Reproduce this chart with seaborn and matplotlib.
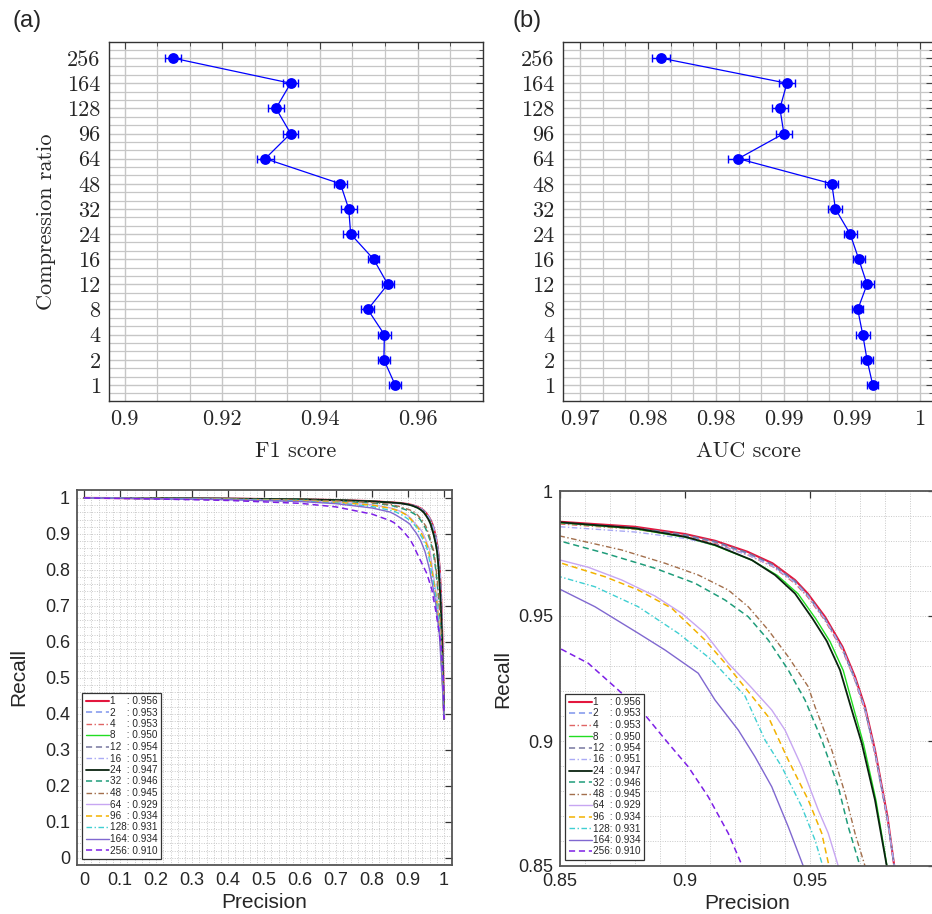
import numpy as np
import pandas as pd
import matplotlib
matplotlib.use("Agg")
import matplotlib.pyplot as plt
import seaborn as sns
from matplotlib.ticker import MultipleLocator, FixedLocator

sns.set_theme(style="white")
plt.rcParams["font.family"] = ["Liberation Sans", "DejaVu Sans"]

# --- dati: punteggi per rapporto di compressione ---
ratios = ["1", "2", "4", "8", "12", "16", "24", "32", "48", "64", "96", "128", "164", "256"]
f1_mean = [0.9554, 0.9531, 0.9532, 0.9498, 0.9539, 0.9510, 0.9463, 0.9459, 0.9442,
           0.9288, 0.9340, 0.9310, 0.9340, 0.9099]
f1_err = [0.0013, 0.0013, 0.0013, 0.0013, 0.0012, 0.0011, 0.0015, 0.0016, 0.0014,
          0.0017, 0.0016, 0.0016, 0.0015, 0.0016]
auc_mean = [0.99583, 0.99533, 0.99495, 0.99451, 0.99533, 0.99460, 0.99384, 0.99254, 0.99222,
            0.98397, 0.98799, 0.98764, 0.98826, 0.97713]
auc_err = [0.00050, 0.00050, 0.00060, 0.00047, 0.00057, 0.00053, 0.00056, 0.00062, 0.00059,
           0.00090, 0.00069, 0.00069, 0.00069, 0.00078]
legend_f1 = [0.956, 0.953, 0.953, 0.950, 0.954, 0.951, 0.947, 0.946, 0.945,
             0.929, 0.934, 0.931, 0.934, 0.910]

# --- curve precision / recall ---
p_top = [0.0, 0.2, 0.4, 0.6, 0.7, 0.8, 0.85, 0.88, 0.90, 0.912, 0.925, 0.935, 0.944, 0.949,
         0.956, 0.963, 0.968, 0.972, 0.976, 0.981, 0.9837, 0.988, 0.992, 0.995, 0.998, 1.0]
r_1 = [1.0, 0.999, 0.998, 0.996, 0.994, 0.991, 0.9877, 0.9857, 0.9828, 0.9801, 0.9757, 0.9711,
       0.9644, 0.9591, 0.9497, 0.9377, 0.9257, 0.9137, 0.8964, 0.8697, 0.85, 0.80, 0.72, 0.62, 0.50, 0.386]
r_2 = [1.0, 0.999, 0.998, 0.996, 0.994, 0.9905, 0.9872, 0.9850, 0.9822, 0.9795, 0.9750, 0.9703,
       0.9636, 0.9582, 0.9487, 0.9366, 0.9245, 0.9124, 0.8950, 0.8683, 0.85, 0.80, 0.72, 0.62, 0.50, 0.386]
r_4 = [1.0, 0.999, 0.998, 0.996, 0.994, 0.9903, 0.9868, 0.9847, 0.9818, 0.9790, 0.9745, 0.9698,
       0.9630, 0.9577, 0.9482, 0.9362, 0.9242, 0.9120, 0.8946, 0.8680, 0.85, 0.80, 0.72, 0.62, 0.50, 0.386]
r_12 = [1.0, 0.999, 0.998, 0.996, 0.994, 0.9906, 0.9874, 0.9853, 0.9825, 0.9798, 0.9753, 0.9706,
        0.9640, 0.9586, 0.9491, 0.9370, 0.9250, 0.9130, 0.8957, 0.8690, 0.85, 0.80, 0.72, 0.62, 0.50, 0.386]
r_16 = [1.0, 0.999, 0.998, 0.995, 0.993, 0.989, 0.9857, 0.9836, 0.9810, 0.9786, 0.9745, 0.9700,
        0.9634, 0.9582, 0.9488, 0.9368, 0.9248, 0.9128, 0.8955, 0.8690, 0.85, 0.80, 0.72, 0.62, 0.50, 0.386]

p_24 = [0.0, 0.2, 0.4, 0.6, 0.7, 0.8, 0.85, 0.88, 0.90, 0.912, 0.9267, 0.936, 0.944, 0.951,
        0.9567, 0.962, 0.9667, 0.9707, 0.976, 0.9807, 0.985, 0.990, 0.994, 0.997, 1.0]
r_24 = [1.0, 0.999, 0.998, 0.996, 0.994, 0.9905, 0.9875, 0.9851, 0.9817, 0.9784, 0.9724, 0.9664,
        0.9590, 0.9490, 0.9400, 0.9284, 0.9124, 0.8991, 0.8764, 0.85, 0.80, 0.72, 0.62, 0.50, 0.386]
p_8 = [0.0, 0.2, 0.4, 0.6, 0.7, 0.8, 0.85, 0.88, 0.90, 0.912, 0.927, 0.937, 0.9452, 0.9523,
       0.958, 0.9633, 0.9677, 0.9714, 0.9764, 0.9808, 0.985, 0.990, 0.994, 0.997, 1.0]
r_8 = [1.0, 0.999, 0.998, 0.996, 0.994, 0.9903, 0.9873, 0.9849, 0.9815, 0.9782, 0.9722, 0.9662,
       0.9589, 0.9489, 0.9398, 0.9282, 0.9122, 0.8989, 0.8762, 0.85, 0.80, 0.72, 0.62, 0.50, 0.386]

p_48 = [0.0, 0.2, 0.4, 0.6, 0.7, 0.8, 0.85, 0.8747, 0.892, 0.9053, 0.9173, 0.9253, 0.9333, 0.9413,
        0.9493, 0.952, 0.9587, 0.964, 0.968, 0.972, 0.978, 0.986, 0.992, 0.996, 1.0]
r_48 = [1.0, 0.999, 0.997, 0.994, 0.992, 0.987, 0.982, 0.9764, 0.9711, 0.9664, 0.9604, 0.9537,
        0.9444, 0.9337, 0.9217, 0.9137, 0.8964, 0.8791, 0.8631, 0.85, 0.80, 0.72, 0.62, 0.50, 0.386]
p_32 = [0.0, 0.2, 0.4, 0.6, 0.7, 0.8, 0.85, 0.868, 0.888, 0.904, 0.916, 0.9253, 0.9333, 0.9413,
        0.948, 0.9547, 0.9613, 0.9653, 0.970, 0.977, 0.985, 0.991, 0.996, 1.0]
r_32 = [1.0, 0.999, 0.997, 0.994, 0.991, 0.986, 0.980, 0.9751, 0.9691, 0.9631, 0.9564, 0.9497,
        0.9404, 0.9284, 0.9164, 0.9004, 0.8817, 0.8657, 0.85, 0.80, 0.72, 0.62, 0.50, 0.386]

p_64 = [0.0, 0.2, 0.4, 0.6, 0.7, 0.8, 0.85, 0.8613, 0.8747, 0.888, 0.8987, 0.908, 0.9173, 0.926,
        0.9347, 0.940, 0.9467, 0.9533, 0.9573, 0.9613, 0.968, 0.980, 0.989, 0.995, 1.0]
r_64 = [1.0, 0.998, 0.996, 0.992, 0.988, 0.981, 0.9724, 0.9695, 0.9644, 0.9580, 0.9511, 0.9431,
        0.9311, 0.9220, 0.9124, 0.9044, 0.8897, 0.8724, 0.8631, 0.85, 0.80, 0.72, 0.62, 0.50, 0.386]
p_96 = [0.0, 0.2, 0.4, 0.6, 0.7, 0.8, 0.85, 0.868, 0.8813, 0.8947, 0.908, 0.9173, 0.928, 0.9333,
        0.9413, 0.9493, 0.9547, 0.9576, 0.966, 0.979, 0.988, 0.995, 1.0]
r_96 = [1.0, 0.998, 0.996, 0.992, 0.988, 0.980, 0.9713, 0.9657, 0.9604, 0.9531, 0.9404, 0.9297,
        0.9164, 0.9097, 0.8924, 0.8764, 0.8631, 0.85, 0.80, 0.72, 0.62, 0.50, 0.386]
p_128 = [0.0, 0.2, 0.4, 0.6, 0.7, 0.8, 0.85, 0.864, 0.8813, 0.8973, 0.9107, 0.9240, 0.932, 0.9387,
         0.9467, 0.952, 0.9551, 0.964, 0.978, 0.988, 0.995, 1.0]
r_128 = [1.0, 0.998, 0.996, 0.991, 0.986, 0.976, 0.9657, 0.9617, 0.9537, 0.9431, 0.9324, 0.9180,
         0.9004, 0.8897, 0.8737, 0.8604, 0.85, 0.80, 0.72, 0.62, 0.50, 0.386]
p_164 = [0.0, 0.2, 0.4, 0.6, 0.7, 0.8, 0.85, 0.864, 0.8813, 0.892, 0.9053, 0.912, 0.9213, 0.928,
         0.9347, 0.9413, 0.9473, 0.960, 0.975, 0.987, 0.994, 1.0]
r_164 = [1.0, 0.998, 0.995, 0.990, 0.984, 0.972, 0.9607, 0.9537, 0.9431, 0.9364, 0.9271, 0.9164,
         0.9044, 0.8937, 0.8817, 0.8657, 0.85, 0.80, 0.72, 0.62, 0.50, 0.386]
p_256 = [0.0, 0.2, 0.4, 0.6, 0.7, 0.8, 0.85, 0.8613, 0.8733, 0.884, 0.8933, 0.9013, 0.9093, 0.9173,
         0.9229, 0.935, 0.952, 0.966, 0.978, 0.992, 0.998, 1.0]
r_256 = [1.0, 0.997, 0.993, 0.985, 0.975, 0.955, 0.937, 0.9311, 0.9204, 0.9104, 0.8991, 0.8897,
         0.8777, 0.8631, 0.85, 0.825, 0.79, 0.745, 0.68, 0.587, 0.494, 0.386]

SOLID, DASH, DASHDOT = "-", (0, (4, 2.5)), (0, (4, 1.8, 1, 1.8))
curves = [
    (p_top, r_1, "#e3173e", SOLID, 1.5),
    (p_top, r_2, "#7f95ec", DASH, 1.1),
    (p_top, r_4, "#e06464", DASHDOT, 1.0),
    (p_8, r_8, "#22dd22", SOLID, 1.0),
    (p_top, r_12, "#77779f", DASH, 1.1),
    (p_top, r_16, "#aaaaf5", DASHDOT, 1.0),
    (p_24, r_24, "#0a230f", SOLID, 1.3),
    (p_32, r_32, "#1f9c7a", DASH, 1.1),
    (p_48, r_48, "#a36f4c", DASHDOT, 1.0),
    (p_64, r_64, "#c7a6f2", SOLID, 1.0),
    (p_96, r_96, "#f2b200", DASH, 1.1),
    (p_128, r_128, "#3fcfd2", DASHDOT, 1.0),
    (p_164, r_164, "#8068d0", SOLID, 1.0),
    (p_256, r_256, "#7d1fe6", DASH, 1.1),
]

W, H = 932, 914


def box(x0, y0, x1, y1):
    return [x0 / W, 1 - y1 / H, (x1 - x0) / W, (y1 - y0) / H]


fig = plt.figure(figsize=(W / 100, H / 100), dpi=100)
fig.patch.set_facecolor("white")

# --- pannelli superiori (stile pgfplots) ---
def score_panel(ax, mean, err, xlim, ticks, ticklabels, minor_ticks, xlabel, ylabel):
    pos = np.arange(len(ratios))
    df = pd.DataFrame({"score": mean, "pos": pos})
    ax.errorbar(mean, pos, xerr=err, fmt="none", ecolor="blue", elinewidth=1.0,
                capsize=2.8, capthick=1.0, zorder=3)
    sns.lineplot(data=df, x="score", y="pos", sort=False, estimator=None, color="blue",
                 lw=0.9, marker="o", markersize=7.8, markeredgewidth=0, ax=ax, zorder=4)
    ax.set_xlim(*xlim)
    ax.set_ylim(-0.64, 13.64)
    ax.set_xticks(ticks)
    ax.set_xticklabels(ticklabels)
    ax.xaxis.set_minor_locator(FixedLocator(minor_ticks))
    ax.set_yticks(pos)
    ax.set_yticklabels(ratios)
    ax.yaxis.set_minor_locator(MultipleLocator(1 / 3))
    ax.set_axisbelow(True)
    ax.grid(which="major", color="#c6c6c6", lw=1.0)
    ax.grid(which="minor", color="#c6c6c6", lw=0.9)
    ax.tick_params(which="both", direction="in", top=True, right=True, color="#444444",
                   labelsize=16, labelfontfamily="cmr10", pad=6)
    ax.tick_params(which="major", length=5, width=0.8)
    ax.tick_params(which="minor", length=3, width=0.6)
    for s in ax.spines.values():
        s.set_color("#333333")
        s.set_linewidth(1.0)
    ax.set_xlabel(xlabel, fontfamily="cmr10", fontsize=16, labelpad=9)
    ax.set_ylabel(ylabel, fontfamily="cmr10", fontsize=16, labelpad=8)


ax_f1 = fig.add_axes(box(109, 42, 483, 401))
score_panel(ax_f1, f1_mean, f1_err, (0.8968, 0.9734), [0.9, 0.92, 0.94, 0.96],
            ["0.9", "0.92", "0.94", "0.96"], np.arange(0.9, 0.974, 0.02 / 3),
            "F1 score", "Compression ratio")

ax_auc = fig.add_axes(box(563, 42, 933, 401))
score_panel(ax_auc, auc_mean, auc_err, (0.9685, 1.00115),
            [0.97, 0.976, 0.982, 0.988, 0.994, 1.0],
            ["0.97", "0.98", "0.98", "0.99", "0.99", "1"], np.arange(0.97, 1.0012, 0.002),
            "AUC score", "")

fig.text(27 / W, 1 - 21 / H, "(a)", fontsize=17, ha="center", va="center")
fig.text(527 / W, 1 - 21 / H, "(b)", fontsize=17, ha="center", va="center")

# --- pannelli inferiori (stile MATLAB) ---
labels = []
for r, f in zip(ratios, legend_f1):
    labels.append(r + "\u2007" * (3 - len(r)) + ": " + f"{f:.3f}")


def pr_panel(ax, lim, major, minor, xticklabels, yticklabels, ylabelpad):
    handles = []
    for (p, rc, col, ls, lw), lab in zip(curves, labels):
        sns.lineplot(x=p, y=rc, sort=False, estimator=None, color=col, linestyle=ls,
                     lw=lw, ax=ax, legend=False)
        handles.append(ax.lines[-1])
    ax.set_xlim(*lim)
    ax.set_ylim(*lim)
    for axis in (ax.xaxis, ax.yaxis):
        axis.set_major_locator(FixedLocator(major))
        axis.set_minor_locator(FixedLocator(minor))
    ax.set_xticklabels(xticklabels)
    ax.set_yticklabels(yticklabels)
    ax.set_axisbelow(True)
    ax.grid(which="both", color="#c9c9c9", lw=0.7, linestyle=(0, (1, 1.5)))
    ax.tick_params(which="major", direction="in", top=True, right=True, length=5, width=0.9,
                   color="#333333", labelsize=13, pad=5)
    ax.tick_params(which="minor", length=0)
    for s in ax.spines.values():
        s.set_color("#555555")
        s.set_linewidth(1.3)
    ax.set_xlabel("Precision", fontsize=15, labelpad=3)
    ax.set_ylabel("Recall", fontsize=15, labelpad=ylabelpad)
    leg = ax.legend(handles, labels, loc="lower left", bbox_to_anchor=(0.014, 0.016),
                    borderaxespad=0, fontsize=7.2, handlelength=2.3, handletextpad=0.15,
                    labelspacing=0.15, borderpad=0.35, fancybox=False, framealpha=1,
                    edgecolor="#333333")
    leg.get_frame().set_linewidth(0.9)


ax_pr = fig.add_axes(box(77, 490, 452, 865))
full_labels = ["0", "0.1", "0.2", "0.3", "0.4", "0.5", "0.6", "0.7", "0.8", "0.9", "1"]
pr_panel(ax_pr, (-0.02, 1.022), np.round(np.arange(0, 1.01, 0.1), 2),
         np.round(np.arange(0, 1.01, 0.02), 2), full_labels, full_labels, 12)

ax_zoom = fig.add_axes(box(560, 491, 935, 866))
pr_panel(ax_zoom, (0.85, 1.0), [0.85, 0.9, 0.95, 1.0],
         np.round(np.arange(0.85, 1.001, 0.01), 2), ["0.85", "0.9", "0.95", ""],
         ["0.85", "0.9", "0.95", "1"], 4)

fig.savefig("out.png", dpi=100)
